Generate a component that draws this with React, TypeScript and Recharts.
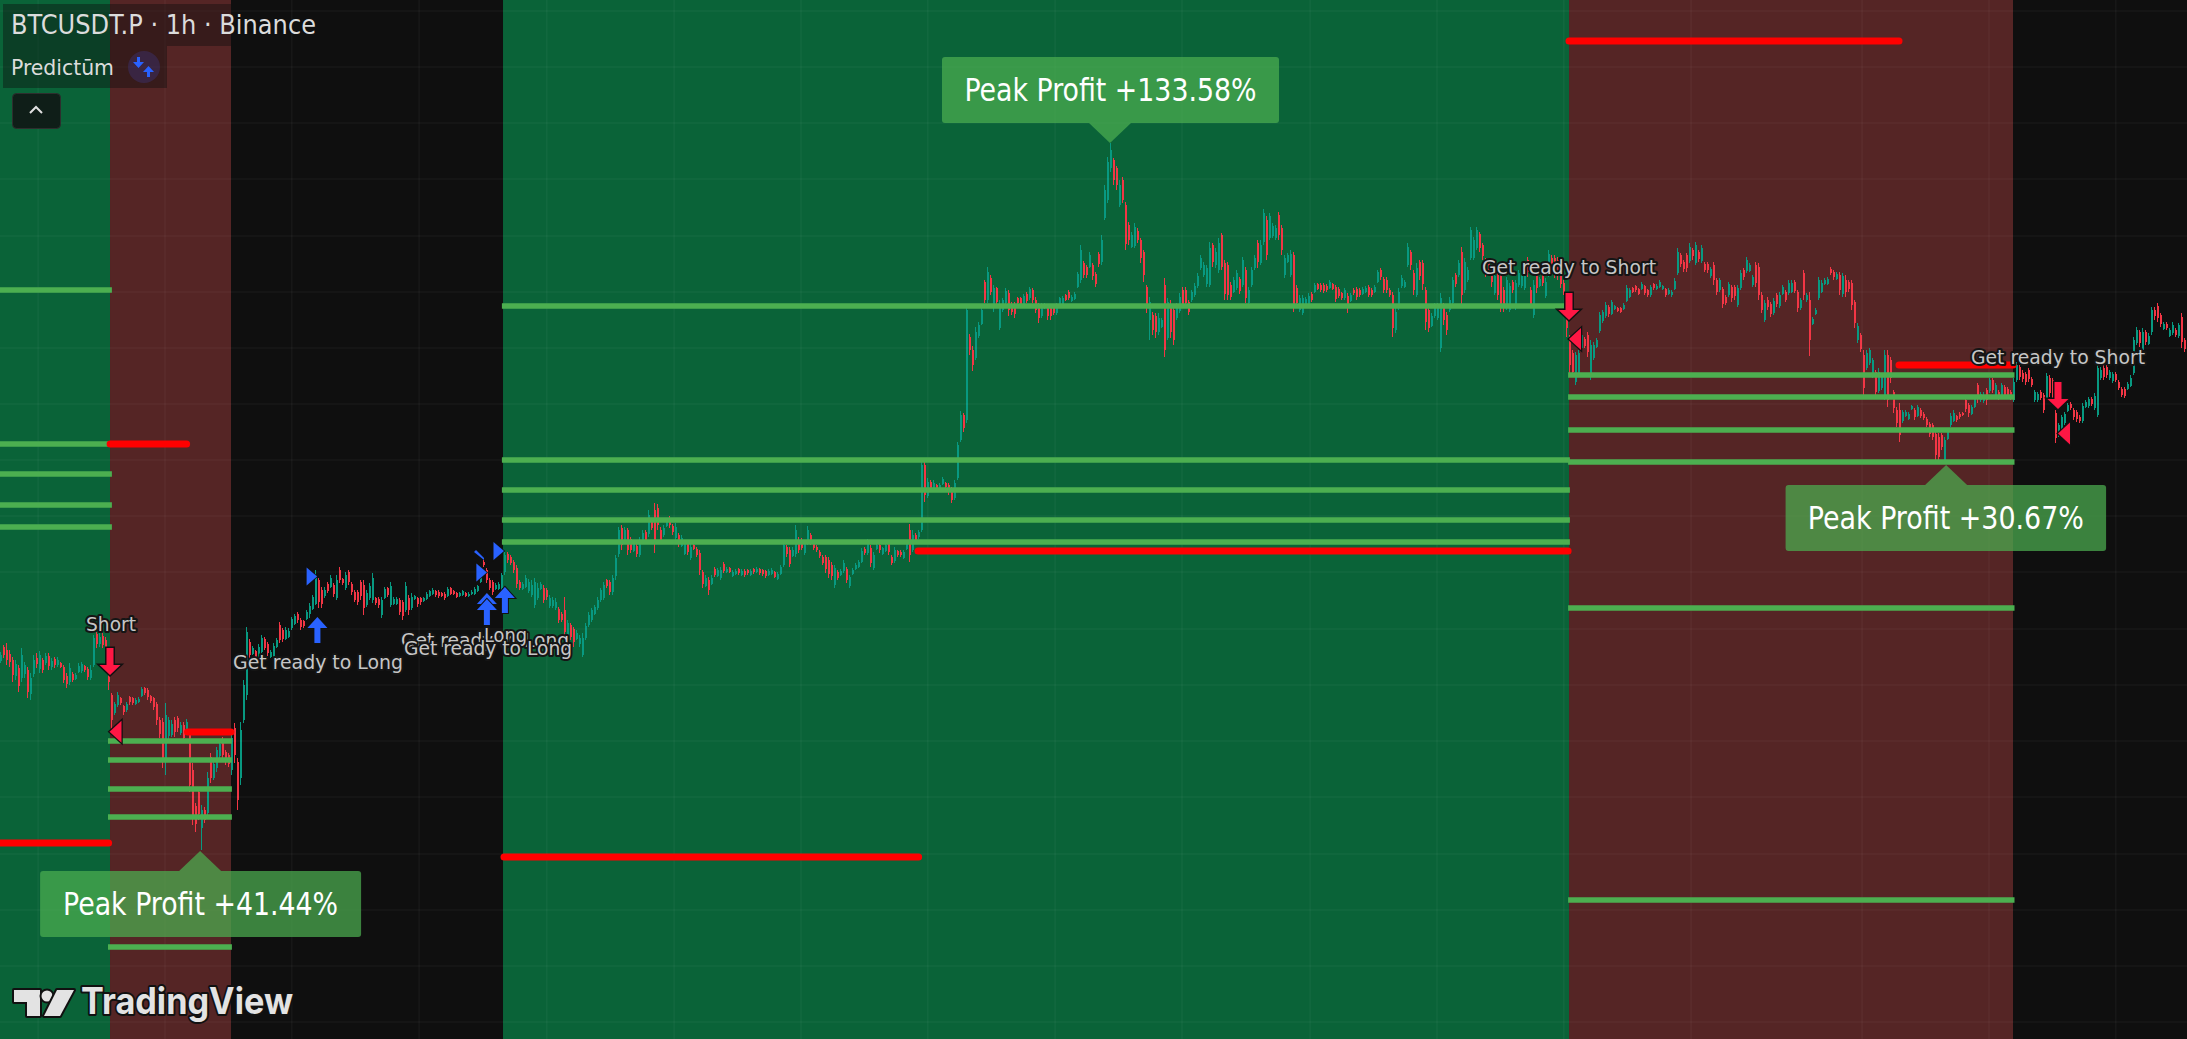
import React from "react";
import { ComposedChart, Bar, XAxis, YAxis, ReferenceArea, ReferenceLine, ReferenceDot } from "recharts";

// every bar is [high, low, open, close]
const preShortBars = [[348,337,339,345],[355,342,353,345],[357,335,350,340],[350,333,346,338],[343,318,340,325],[340,320,324,336],[335,308,332,314],[352,318,322,345],[338,322,326,335],[333,302,330,308],[327,300,306,322],[345,323,326,340],[347,332,342,336],[349,327,331,345],[342,327,340,330],[347,335,337,344],[347,330,344,334],[342,330,333,339],[343,332,341,335],[343,333,335,340],[338,332,337,333],[335,317,333,320],[327,312,324,316],[337,315,318,332],[328,318,326,320],[327,320,321,325],[337,327,328,334],[338,327,329,336],[335,328,334,330],[333,320,331,323],[335,320,322,330],[365,333,335,362],[368,352,366,356],[367,353,356,363],[367,352,364,355],[363,340,360,345],[330,310,328,318]];
const firstShortBars = [[307,270,305,280],[298,285,287,296],[308,293,295,305],[303,295,302,297],[295,285,294,288],[298,288,290,296],[304,295,303,298],[303,295,302,297],[302,295,296,300],[303,297,298,301],[313,303,304,311],[313,305,312,307],[312,300,310,303],[305,297,304,299],[303,290,302,293],[298,275,296,280],[283,262,280,266],[282,232,278,240],[297,225,240,285],[283,260,264,280],[280,263,265,276],[283,263,280,268],[284,268,282,272],[278,265,267,275],[278,258,275,262],[281,268,270,278],[270,208,268,215],[237,175,230,185],[197,168,194,176],[212,180,208,186],[195,150,172,190],[193,177,190,180],[228,183,187,222],[247,217,243,222],[240,220,222,236],[253,228,232,250],[260,242,244,256],[263,240,260,245],[250,235,248,238],[247,233,245,236],[270,225,230,262]];
const neutralBars = [[277,237,272,245],[242,190,238,200],[278,215,222,270],[320,277,280,315],[373,300,305,368],[361,340,358,345],[354,345,346,352],[350,340,349,343],[356,343,344,353],[365,347,348,362],[363,350,361,352],[358,344,356,347],[350,342,343,348],[357,340,342,354],[362,352,353,360],[378,357,375,360],[372,358,370,361],[373,360,361,370],[372,362,363,369],[383,370,372,381],[386,375,376,384],[388,377,386,380],[382,370,380,373],[380,372,379,374],[390,380,381,388],[397,382,386,394],[405,390,391,403],[430,395,396,425],[422,392,420,398],[413,392,410,396],[413,402,404,410],[418,407,416,409],[425,412,413,422],[417,403,415,406],[425,400,402,420],[433,417,430,420],[422,415,421,417],[428,410,412,425],[430,415,428,418],[418,405,416,408],[410,398,408,400],[410,395,408,398],[420,400,418,404],[420,385,415,392],[410,393,395,407],[417,400,402,414],[427,397,400,422],[403,395,402,397],[403,392,401,395],[403,382,385,400],[413,401,402,411],[413,403,412,405],[418,393,395,414],[403,395,396,401],[403,395,396,401],[402,385,400,388],[400,380,398,384],[418,388,390,414],[405,385,402,390],[407,390,392,403],[405,400,401,404],[403,393,402,396],[403,395,402,398],[403,398,399,402],[408,400,401,406],[410,403,404,409],[412,405,406,410],[410,403,409,405],[410,402,408,404],[408,403,407,404],[408,400,406,402],[413,403,404,411],[413,405,412,406],[410,405,409,406],[408,402,407,403],[408,403,404,407],[410,404,405,409],[408,403,407,404],[408,403,404,406],[410,405,406,408],[413,405,406,411],[415,408,409,414],[430,417,418,428],[440,433,438,435],[432,417,430,420],[422,410,420,412],[420,405,418,408],[417,410,411,415],[418,410,411,416],[427,410,412,425]];
const longBarsEarly = [[448,425,428,445],[448,437,446,440],[445,435,443,437],[440,427,438,430],[435,412,432,416],[420,410,418,412],[418,410,411,416],[425,412,413,422],[421,407,409,418],[420,403,405,415],[422,392,395,418],[417,400,402,412],[418,410,411,416],[415,397,412,400],[412,400,410,403],[405,392,394,402],[403,392,394,400],[402,390,392,398],[393,377,391,380],[388,378,386,380],[403,360,390,368],[380,363,365,377],[377,360,375,363],[373,353,371,358],[370,360,361,367],[365,353,356,362],[367,343,345,362],[377,360,362,374],[388,373,375,385],[392,378,380,390],[395,385,386,393],[403,390,392,400],[412,398,400,410],[418,400,402,415],[421,412,420,414],[420,405,418,408],[425,405,408,422],[445,420,424,442],[473,443,446,470],[475,450,472,455],[473,457,458,470],[472,445,470,450],[463,447,461,450],[458,448,449,456],[456,443,454,446],[463,443,445,460],[470,457,458,467],[470,458,468,460],[490,463,466,485],[480,470,479,472],[497,447,490,460],[496,470,492,475],[473,456,470,460],[475,463,465,472],[482,473,474,480],[484,472,482,475],[476,465,474,468],[477,460,462,473],[467,453,465,456],[465,453,454,462],[458,445,446,456],[458,445,456,448],[456,440,442,453],[456,450,455,451],[453,443,451,445],[450,425,447,430],[430,412,428,416],[425,413,414,422],[423,405,420,410],[425,415,416,422],[433,423,431,425],[432,423,424,430],[433,420,422,430],[438,427,436,429],[433,427,428,431],[433,427,432,428],[430,423,424,428],[431,425,426,429],[432,425,431,427],[431,424,425,429],[431,423,429,425],[431,425,430,427],[431,424,425,429],[432,426,431,428],[433,427,428,431],[432,425,431,427],[431,424,430,426],[430,422,429,424],[431,424,425,429],[432,425,426,430],[429,422,428,423],[428,420,421,426],[435,425,426,433],[458,433,435,455],[455,443,453,446],[453,433,450,436],[453,443,444,450],[475,443,446,470],[463,447,460,450],[462,450,460,452],[460,445,447,457],[474,455,457,470],[467,455,465,458],[458,450,456,452],[455,448,453,450],[450,442,448,444],[445,435,443,437],[445,427,443,431],[443,422,440,426],[438,420,435,424],[435,412,415,432],[430,420,428,422],[431,424,425,429],[440,427,429,437],[433,417,431,420],[425,412,414,423],[432,425,426,430],[437,430,431,435],[440,432,433,438],[452,437,438,449],[453,445,451,447],[461,445,447,458],[455,433,452,437],[448,430,432,445],[456,450,451,455],[458,447,455,450],[453,445,446,452],[457,448,449,455],[458,445,456,448],[445,435,443,437],[453,437,439,450],[450,443,449,445],[450,443,448,445],[450,441,442,448],[458,450,451,456],[476,438,470,445],[470,448,450,465],[467,457,465,459],[470,461,463,468]];
const longBarsRally = [[541,468,470,535],[538,498,535,505],[522,502,504,518],[520,508,518,510],[520,510,512,517],[516,508,515,510],[517,509,510,515],[523,515,516,521],[518,512,517,513],[517,505,515,508],[513,497,510,500],[520,500,502,517],[558,520,522,555],[589,558,560,585],[587,568,585,572],[694,577,580,690],[666,645,663,650],[654,629,650,635],[673,640,642,668],[678,662,664,675],[694,675,676,690],[720,697,718,700],[733,697,700,728],[725,705,722,708],[715,688,692,712],[713,695,712,698],[700,670,672,696],[702,688,690,700],[712,695,697,709],[710,684,707,690],[698,685,696,688],[698,682,696,686],[703,695,702,697],[703,695,702,696],[706,693,695,704],[708,697,706,699],[713,700,702,711],[712,697,710,700],[703,687,700,690],[697,677,695,682],[697,682,684,695],[697,691,692,696],[695,680,693,684],[695,680,693,684],[694,685,693,687],[697,685,687,695],[703,695,696,702]];
const longBarsTop = [[704,695,696,702],[706,699,705,700],[710,700,708,702],[705,698,699,703],[708,700,701,706],[728,712,713,726],[755,717,720,750],[739,722,737,725],[735,722,733,725],[748,732,733,745],[737,720,735,724],[728,713,726,716],[748,733,746,736],[765,735,738,760],[815,780,782,810],[843,797,800,838],[857,828,832,850],[842,815,840,820],[834,810,832,815],[820,793,795,815],[823,797,820,800],[798,750,795,756],[778,755,775,760],[768,752,753,765],[777,752,754,773],[772,757,769,760],[762,737,760,742],[750,718,748,725],[715,687,713,693],[703,660,680,698],[688,665,685,670],[687,662,684,668],[687,665,668,682],[682,672,673,680],[722,643,715,650],[702,660,662,698],[700,662,695,668],[693,655,690,660],[697,680,682,693],[707,687,689,703],[713,692,710,696],[713,693,710,697],[700,685,698,688],[710,698,700,708],[717,703,705,714],[727,712,714,724],[745,730,732,742],[738,723,725,735],[735,713,716,732],[758,713,715,752],[757,733,755,738],[752,732,735,748],[762,727,730,757],[767,730,765,733],[740,700,737,706],[738,700,735,705],[718,700,715,703],[723,707,708,720],[730,710,712,727],[723,706,721,709],[743,713,715,740],[733,697,730,702],[713,695,697,710],[733,713,715,730],[745,730,732,742],[760,732,757,738],[760,735,737,755],[791,755,758,787],[784,740,780,745],[787,760,762,784],[777,762,764,774],[775,760,762,772],[788,760,785,765],[775,745,772,750],[745,722,725,742],[747,737,738,745],[750,723,725,746],[748,688,745,695],[715,693,712,697],[705,688,690,702],[705,685,687,702],[703,692,693,701],[707,695,696,704],[708,698,706,700],[717,707,708,715],[717,710,716,711],[717,708,715,710],[717,707,715,709],[716,708,714,710],[720,711,712,718],[717,710,716,711],[715,698,713,701],[713,702,711,704],[708,700,707,702],[712,700,702,710],[707,687,704,692],[707,698,699,705],[712,705,710,707],[713,700,711,703],[712,703,710,705],[713,705,706,711],[714,707,708,712],[715,703,713,705],[712,703,710,705],[715,707,708,713],[730,717,718,728],[732,720,730,723],[723,707,721,710],[723,707,720,710],[712,703,710,705],[708,663,705,672],[692,667,670,688],[712,690,692,708],[725,712,714,722],[720,712,713,718],[757,733,735,753],[750,730,748,735],[730,705,727,710],[737,703,705,732],[740,720,738,724],[740,710,737,716],[713,670,710,678],[693,668,690,672],[687,673,674,684],[697,682,684,694],[697,680,682,693],[707,648,652,702],[697,675,694,680],[688,665,685,670],[703,688,690,700],[723,695,697,720],[727,713,725,716],[740,723,725,737],[753,695,748,705],[742,707,710,738],[733,718,720,730],[773,740,742,770],[763,740,742,760],[773,750,752,770],[768,748,766,752],[757,740,755,744],[742,723,740,728],[740,727,738,730],[733,713,730,718],[727,705,707,724],[727,700,725,705],[727,688,725,695],[713,688,710,693],[723,690,693,720],[717,688,690,714],[720,707,718,710],[720,690,693,717],[730,713,715,727],[730,712,714,726],[727,710,712,724],[743,723,740,728],[713,692,710,696],[720,682,685,715],[727,707,725,712],[723,713,714,721],[727,714,725,717],[722,702,704,718],[750,723,725,746],[745,725,742,730],[745,722,742,727],[743,720,740,725],[730,712,727,716],[720,705,717,708],[708,663,705,672]];
const secondShortBars = [[665,627,660,635],[650,623,647,628],[648,615,618,645],[650,625,627,647],[668,650,652,665],[663,652,661,654],[668,643,665,648],[660,620,623,655],[658,640,642,655],[662,652,653,660],[688,667,669,685],[690,677,679,688],[698,682,684,695],[695,683,693,686],[700,685,686,698],[695,690,691,694],[693,688,692,689],[693,687,692,688],[697,690,691,695],[715,698,699,712],[712,702,703,710],[713,707,712,708],[715,708,714,710],[712,705,711,706],[718,710,711,716],[715,705,714,707],[711,703,710,705],[715,703,705,713],[717,710,716,712],[716,710,711,714],[720,712,713,718],[715,710,711,714],[712,703,711,705],[712,705,706,710],[710,703,705,708],[722,710,711,719],[752,725,727,748],[747,733,745,736],[740,728,738,731],[747,728,745,732],[757,737,739,753],[752,740,750,744],[758,735,737,755],[750,738,748,741],[755,737,739,752],[738,728,736,730],[738,727,736,730],[733,722,724,731],[738,715,735,720],[722,705,720,708],[722,708,710,720],[713,692,711,696],[705,695,703,697],[718,703,705,716],[715,698,713,702],[715,700,713,704],[715,693,695,712],[730,710,712,727],[732,720,730,723],[743,727,729,740],[737,728,729,735],[725,713,715,723],[738,713,735,717],[737,700,733,705],[708,687,705,690],[700,678,680,697],[703,690,700,693],[698,683,696,686],[702,685,687,699],[707,693,705,696],[708,692,694,705],[715,705,706,713],[710,698,708,700],[720,705,707,717],[720,707,708,717],[720,707,718,709],[710,688,708,692],[702,690,692,700],[730,700,727,705],[707,698,700,705],[708,644,700,660],[683,675,676,681],[692,685,686,690],[723,700,702,720],[720,707,708,717],[722,715,716,720],[723,715,716,721],[733,725,731,727],[730,720,728,723],[728,720,721,726],[728,705,725,710],[727,703,706,724],[725,703,720,708],[720,708,718,711],[720,690,717,695],[700,672,698,677],[677,657,660,674],[667,648,665,651],[650,603,645,612],[650,630,632,647],[652,635,637,650],[642,622,624,640],[630,603,628,608],[632,607,609,628],[627,610,612,625],[650,600,602,645],[650,593,645,600],[643,617,640,622],[610,587,608,592],[593,573,590,577],[597,558,590,565],[590,577,579,588],[590,583,584,588],[588,580,581,586],[595,590,591,594],[592,580,590,583],[595,583,584,593],[592,582,590,584],[588,580,586,582],[583,573,581,575],[578,563,576,566],[577,560,575,563],[570,538,566,545],[567,538,563,543],[567,550,565,553],[563,537,540,560],[572,560,561,570],[587,573,575,584],[590,578,579,587],[585,578,584,580],[588,581,586,583],[588,584,587,585],[602,588,600,591],[597,583,595,587],[595,585,586,593],[603,592,593,601],[617,597,615,601],[608,598,600,606],[608,597,599,605],[612,595,610,600],[622,607,609,620],[622,607,620,610],[617,603,605,615],[610,600,608,602],[617,603,605,615],[615,602,613,605],[613,602,611,604],[610,600,608,603],[622,598,600,618]];
const finalBars = [[638,618,620,635],[635,620,633,623],[630,618,627,621],[628,615,626,618],[632,618,630,621],[623,613,621,615],[610,598,600,608],[608,598,600,606],[610,600,608,602],[607,587,605,590],[627,600,602,624],[625,603,622,607],[622,600,620,604],[590,557,587,562],[577,563,565,575],[585,568,570,583],[588,575,577,586],[597,588,589,595],[598,590,596,592],[592,580,590,583],[590,578,588,581],[585,577,583,579],[597,577,579,594],[600,592,593,598],[603,592,594,601],[603,594,601,596],[607,590,592,604],[637,583,585,632],[633,620,622,630],[635,620,632,623],[635,622,633,625],[630,620,622,628],[628,617,619,626],[628,618,626,620],[620,610,618,612],[613,603,611,605],[613,602,611,604],[618,610,611,616],[625,613,614,622],[663,625,627,660],[673,655,657,670],[670,653,668,657],[672,648,650,668],[670,655,668,658],[667,655,656,664],[693,665,668,690],[693,680,690,684],[697,678,694,682],[687,673,685,676],[678,670,671,676],[678,670,676,672],[672,663,664,670],[678,665,667,675],[672,663,670,665],[677,662,664,675],[687,652,683,658],[662,648,660,651],[655,645,653,648]];

// background regimes, in bar numbers
const zones = [
  { from: 0, to: 36.67, fill: "#0a6338" },
  { from: 36.67, to: 77, fill: "#552525" },
  { from: 77, to: 167.67, fill: "#0f0f0f" },
  { from: 167.67, to: 523, fill: "#0a6338" },
  { from: 523, to: 671, fill: "#552525" },
  { from: 671, to: 729, fill: "#0f0f0f" },
];
const gridBars = [12.7, 55, 97.3, 139.7, 182.3, 224.7, 267, 309.3, 351.7, 394, 436.7, 479, 521.3, 563.7, 620.7, 663, 705.3];
const gridPrices = [989, 933, 877, 821, 764, 708, 652, 596, 540, 484, 428, 371, 315, 259, 203, 146, 90, 34, -22];

// [from bar, to bar, price]
const greenLevels = [
  [0, 37.3, 710], [0, 37.3, 556], [0, 37.3, 526], [0, 37.3, 495], [0, 37.3, 473],
  [36, 77.3, 259], [36, 77.3, 240], [36, 77.3, 211], [36, 77.3, 183], [36, 77.3, 53],
  [167.3, 523.3, 694], [167.3, 523.3, 540], [167.3, 523.3, 510], [167.3, 523.3, 480], [167.3, 523.3, 458],
  [522.7, 671.5, 625], [522.7, 671.5, 603], [522.7, 671.5, 570], [522.7, 671.5, 538], [522.7, 671.5, 392], [522.7, 671.5, 100],
];
const redLevels = [
  [0, 36.2, 157], [36.7, 62.2, 556], [62.5, 77, 268],
  [168, 306.2, 143], [306, 522.7, 449], [523, 633, 959], [633, 671, 635],
];

const shortSignalArrows = [[36.67, 325], [523, 680], [686, 591]];
const longSignalArrows = [[105.8, 383], [162.3, 407], [162.3, 401], [168.3, 413]];
const longEntryMarks = [[105.7, 423.5], [162.3, 427.5], [168, 449]];
const shortEntryMarks = [[36.5, 268.3], [523, 661], [686, 566.5]];
const clippedEntryMarks = [[158, 448]];
const labelColor = "#c6c6c6";
const signalTexts = [
  { text: "Short", bar: 37, price: 369, w: 50 },
  { text: "Get ready to Long", bar: 106, price: 331, w: 170 },
  { text: "Get ready to Long", bar: 161.7, price: 353, w: 168 },
  { text: "Long", bar: 168.5, price: 358, w: 43 },
  { text: "Get ready to Long", bar: 162.7, price: 345, w: 168 },
  { text: "Get ready to Short", bar: 523, price: 726, w: 174 },
  { text: "Get ready to Short", bar: 686, price: 636, w: 174 },
];
const peakCallouts = [
  { text: "Peak Profit +41.44%", bar: 66.7, price: 149, left: -160, boxW: 321, textW: 275 },
  { text: "Peak Profit +133.58%", bar: 370, price: 857, left: -168, boxW: 337, textW: 292, above: true },
  { text: "Peak Profit +30.67%", bar: 648.7, price: 535, left: -160.5, boxW: 320.5, textW: 276 },
];

const allBars = [...preShortBars, ...firstShortBars, ...neutralBars, ...longBarsEarly, ...longBarsRally, ...longBarsTop, ...secondShortBars, ...finalBars];
const table = allBars.map((b, i) => ({ i, range: [b[1], b[0]], open: b[2], close: b[3] }));

const uiFont = '"DejaVu Sans Condensed","DejaVu Sans",sans-serif';

function Candle(props: any) {
  const { x, y, width, height, payload } = props;
  const [lo, hi] = payload.range;
  const k = height / (hi - lo);
  const up = payload.close >= payload.open;
  const color = up ? "#089981" : "#f23645";
  const cx = Math.round(x + width / 2);
  const top = y + (hi - Math.max(payload.open, payload.close)) * k;
  const bh = Math.max(1, Math.abs(payload.open - payload.close) * k);
  return (
    <g shapeRendering="crispEdges">
      <rect x={cx} y={y} width={1} height={height} fill={color} />
      <rect x={cx} y={top} width={2} height={bh} fill={color} />
    </g>
  );
}
const ArrowDown = (color: string) => (p: any) => (
  <path d={`M${p.cx - 3.5} ${p.cy - 27} h7 v17 h7 L${p.cx} ${p.cy} L${p.cx - 10.5} ${p.cy - 10} h7 Z`} fill={color} stroke="#111" strokeWidth={3} paintOrder="stroke" strokeLinejoin="miter" />
);
const ArrowUp = (color: string) => (p: any) => (
  <path d={`M${p.cx - 3} ${p.cy + 26} h6 v-15 h7 L${p.cx} ${p.cy} L${p.cx - 10} ${p.cy + 11} h7 Z`} fill={color} stroke="#111" strokeWidth={2} paintOrder="stroke" />
);
const TriRight = (p: any) => <path d={`M${p.cx} ${p.cy} l-10.5 -9 v18 Z`} fill="#2962ff" stroke="#111" strokeWidth={1.5} paintOrder="stroke" />;
const TriLeft = (p: any) => <path d={`M${p.cx} ${p.cy} l12 -11 v22 Z`} fill="#ff1744" stroke="#111" strokeWidth={2.5} paintOrder="stroke" />;
const Sliver = (p: any) => <path d={`M${p.cx} ${p.cy} l2 -2 l8 8 l0 2 Z`} fill="#2962ff" />;
const SignalText = (t: any) => (p: any) => (
  <text x={p.cx} y={p.cy} textAnchor="middle" fontFamily={uiFont} fontSize={20} fill={labelColor} stroke="#151515" strokeWidth={4} paintOrder="stroke" strokeLinejoin="round" textLength={t.w} lengthAdjust="spacingAndGlyphs">{t.text}</text>
);
const Callout = (t: any) => (p: any) => {
  const dir = t.above ? -1 : 1;
  const baseY = p.cy + dir * 20;
  const boxTop = t.above ? baseY - 66 : baseY;
  const fill = "rgba(76,175,80,0.72)";
  return (
    <g>
      <path d={`M${p.cx} ${p.cy} L${p.cx + 21} ${baseY} L${p.cx - 21} ${baseY} Z`} fill={fill} />
      <rect x={p.cx + t.left} y={boxTop} width={t.boxW} height={66} rx={3} fill={fill} />
      <text x={p.cx + t.left + t.boxW / 2} y={boxTop + 44} textAnchor="middle" fontFamily={uiFont} fontSize={32} fill="#ffffff" textLength={t.textW} lengthAdjust="spacingAndGlyphs">{t.text}</text>
    </g>
  );
};

export default function App() {
  return (
    <div style={{ position: "absolute", left: 0, top: 0, width: 2187, height: 1039, overflow: "hidden", background: "#0f0f0f" }}>
      <ComposedChart width={2187} height={1039} data={table} margin={{ top: 0, right: 0, bottom: 0, left: 0 }}>
        <XAxis dataKey="i" type="number" domain={[0, 729]} hide allowDataOverflow />
        <YAxis type="number" domain={[-39, 1000]} hide allowDataOverflow />
        {zones.map((z, n) => <ReferenceArea key={"z" + n} x1={z.from} x2={z.to} y1={-39} y2={1000} fill={z.fill} fillOpacity={1} stroke="none" ifOverflow="extendDomain" />)}
        {gridBars.map((g) => <ReferenceLine key={"gx" + g} x={g} stroke="#ffffff" strokeOpacity={0.06} strokeWidth={1} />)}
        {gridPrices.map((g) => <ReferenceLine key={"gy" + g} y={g} stroke="#ffffff" strokeOpacity={0.06} strokeWidth={1} />)}
        {greenLevels.map((l, n) => <ReferenceLine key={"g" + n} segment={[{ x: l[0], y: l[2] }, { x: l[1], y: l[2] }]} stroke="#4caf50" strokeWidth={5.5} />)}
        {redLevels.map((l, n) => <ReferenceLine key={"r" + n} segment={[{ x: l[0], y: l[2] }, { x: l[1], y: l[2] }]} stroke="#ff0000" strokeWidth={7} strokeLinecap="round" />)}
        <Bar dataKey="range" barSize={2} isAnimationActive={false} shape={Candle} />
        {clippedEntryMarks.map((m, n) => <ReferenceDot key={"c" + n} x={m[0]} y={m[1]} shape={Sliver} ifOverflow="visible" />)}
        {longEntryMarks.map((m, n) => <ReferenceDot key={"le" + n} x={m[0]} y={m[1]} shape={TriRight} ifOverflow="visible" />)}
        {shortEntryMarks.map((m, n) => <ReferenceDot key={"se" + n} x={m[0]} y={m[1]} shape={TriLeft} ifOverflow="visible" />)}
        {longSignalArrows.map((m, n) => <ReferenceDot key={"la" + n} x={m[0]} y={m[1]} shape={ArrowUp("#2962ff")} ifOverflow="visible" />)}
        {shortSignalArrows.map((m, n) => <ReferenceDot key={"sa" + n} x={m[0]} y={m[1]} shape={ArrowDown("#ff1744")} ifOverflow="visible" />)}
        {signalTexts.map((t, n) => <ReferenceDot key={"t" + n} x={t.bar} y={t.price} shape={SignalText(t)} ifOverflow="visible" />)}
        {peakCallouts.map((t, n) => <ReferenceDot key={"p" + n} x={t.bar} y={t.price} shape={Callout(t)} ifOverflow="visible" />)}
      </ComposedChart>
      <svg width={2187} height={1039} style={{ position: "absolute", left: 0, top: 0, pointerEvents: "none" }}>
        <rect x={3} y={4} width={228} height={42} fill="rgba(15,15,15,0.42)" />
        <rect x={3} y={46} width={164} height={42} fill="rgba(15,15,15,0.42)" />
        <text x={11} y={34} fontFamily={uiFont} fontSize={27} fill="#dcdcdc" textLength={305} lengthAdjust="spacingAndGlyphs">BTCUSDT.P · 1h · Binance</text>
        <text x={11} y={75} fontFamily={uiFont} fontSize={22} fill="#dcdcdc" textLength={103} lengthAdjust="spacingAndGlyphs">Predictūm</text>
        <circle cx={144} cy={67} r={16} fill="#3f3a8c" fillOpacity={0.35} />
        <path d="M137 57 h3 v5 h4 l-5.5 6 l-5.5 -6 h4 Z" fill="#2962ff" />
        <path d="M147 77 h3 v-5 h4 l-5.5 -6 l-5.5 6 h4 Z" fill="#2962ff" />
        <rect x={12.5} y={93.5} width={48} height={35} rx={4} fill="#0f1e18" stroke="#2e2e2e" />
        <path d="M30 113 l6 -6 l6 6" fill="none" stroke="#e0e0e0" strokeWidth={2} />
        <g stroke="#111" strokeWidth={4} paintOrder="stroke" fill="#e3e3e3" strokeLinejoin="round">
          <path d="M14 990 H40 V1016 H27 V1002 H14 Z" />
          <circle cx={47} cy={996} r={5.5} />
          <path d="M57 990 H74 L60 1016 H44 Z" />
          <text x={81} y={1014} fontFamily='"Inter","Liberation Sans",sans-serif' fontWeight={700} fontSize={37} textLength={212} lengthAdjust="spacingAndGlyphs">TradingView</text>
        </g>
      </svg>
    </div>
  );
}
